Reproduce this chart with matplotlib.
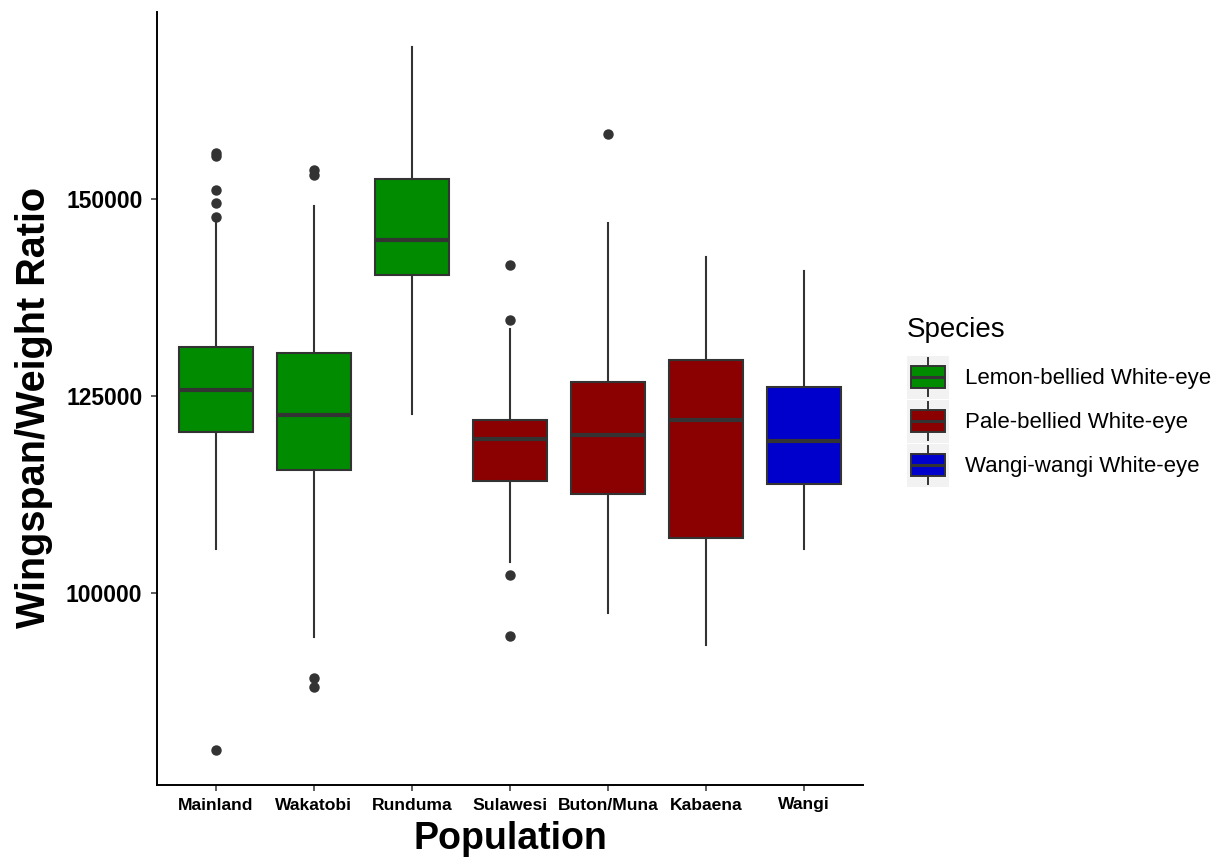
import matplotlib
matplotlib.use("Agg")
import matplotlib.pyplot as plt
from matplotlib.patches import Rectangle, Patch
from matplotlib.lines import Line2D
from matplotlib.legend_handler import HandlerBase

plt.rcParams['font.family'] = ['Liberation Sans', 'DejaVu Sans']

# ---- data ----
populations = ["Mainland", "Wakatobi", "Runduma", "Sulawesi", "Buton/Muna", "Kabaena", "Wangi"]
pop_species = ["Lemon-bellied White-eye", "Lemon-bellied White-eye", "Lemon-bellied White-eye",
               "Pale-bellied White-eye", "Pale-bellied White-eye", "Pale-bellied White-eye",
               "Wangi-wangi White-eye"]
q1 = [120460, 115620, 140420, 114140, 112520, 106960, 113800]
medians = [125810, 122590, 144790, 119530, 120080, 121910, 119310]
q3 = [131210, 130490, 152530, 121950, 126750, 129600, 126120]
whisker_low = [105520, 94390, 122720, 103900, 97450, 93410, 105610]
whisker_high = [147050, 149180, 169310, 133460, 146920, 142680, 140840]
outliers = [
    [147700, 149470, 151160, 155460, 155840, 80040],
    [153070, 153710, 89170, 88020],
    [],
    [134690, 141610, 102200, 94470],
    [158300],
    [],
    [],
]
species_names = ["Lemon-bellied White-eye", "Pale-bellied White-eye", "Wangi-wangi White-eye"]
species_colors = ["#008B00", "#8B0000", "#0000CD"]
yticks = [100000, 125000, 150000]

color_of = dict(zip(species_names, species_colors))
EDGE = "#333333"

fig = plt.figure(figsize=(12.22, 8.57), dpi=100)
ax = fig.add_axes([157 / 1222, 1 - 785 / 857, (863 - 157) / 1222, (785 - 12) / 857])

stats = []
for i, p in enumerate(populations):
    stats.append(dict(label=p, q1=q1[i], med=medians[i], q3=q3[i],
                      whislo=whisker_low[i], whishi=whisker_high[i], fliers=outliers[i]))

positions = list(range(1, len(populations) + 1))
bp = ax.bxp(stats, positions=positions, widths=0.75, patch_artist=True, showcaps=False,
            boxprops=dict(edgecolor=EDGE, linewidth=1.5),
            whiskerprops=dict(color=EDGE, linewidth=1.5),
            medianprops=dict(color=EDGE, linewidth=3.0, solid_capstyle='butt'),
            flierprops=dict(marker='o', markerfacecolor=EDGE, markeredgecolor=EDGE,
                            markersize=6.5, linestyle='none'))
for patch, sp in zip(bp['boxes'], pop_species):
    patch.set_facecolor(color_of[sp])

ax.set_xlim(0.4, len(populations) + 0.6)
ax.set_ylim(75570, 173770)
ax.set_yticks(yticks)
ax.set_yticklabels([str(v) for v in yticks])
ax.set_xticks(positions)
ax.set_xticklabels(populations)

for s in ['top', 'right']:
    ax.spines[s].set_visible(False)
for s in ['left', 'bottom']:
    ax.spines[s].set_linewidth(1.4)
    ax.spines[s].set_color('black')

ax.tick_params(axis='y', length=4.5, width=1.1, color=EDGE, pad=6, labelsize=16.5)
ax.tick_params(axis='x', length=4.5, width=1.1, color=EDGE, pad=4.5, labelsize=12.6)
for lab in ax.get_yticklabels() + ax.get_xticklabels():
    lab.set_fontweight('bold')
    lab.set_color('black')

ax.set_xlabel("Population", fontsize=27, fontweight='bold')
ax.set_ylabel("Wingspan/Weight Ratio", fontsize=28.5, fontweight='bold')
ax.xaxis.set_label_coords(0.5, -0.046)
ax.yaxis.set_label_coords(-0.148, 0.489)


class BoxHandler(HandlerBase):
    def create_artists(self, legend, orig_handle, xdescent, ydescent, width, height,
                       fontsize, trans):
        x0, y0 = -xdescent, -ydescent
        fc = orig_handle.get_facecolor()
        bg = Rectangle((x0, y0), width, height, facecolor='#F2F2F2', edgecolor='none',
                       transform=trans)
        bx0 = x0 + width * 0.09
        bw = width * 0.82
        by0 = y0 + height * 0.25
        bh = height * 0.50
        xc = x0 + width / 2
        w1 = Line2D([xc, xc], [y0 + height * 0.06, by0], color=EDGE, lw=1.4, transform=trans)
        w2 = Line2D([xc, xc], [by0 + bh, y0 + height * 0.94], color=EDGE, lw=1.4, transform=trans)
        box = Rectangle((bx0, by0), bw, bh, facecolor=fc, edgecolor=EDGE, lw=1.4,
                        transform=trans)
        med = Line2D([bx0, bx0 + bw], [by0 + bh / 2, by0 + bh / 2], color=EDGE, lw=2.2,
                     solid_capstyle='butt', transform=trans)
        return [bg, w1, w2, box, med]


handles = [Patch(facecolor=c, edgecolor=EDGE) for c in species_colors]
leg = fig.legend(handles, species_names, title="Species", loc='upper left',
                 bbox_to_anchor=(907 / 1222, 1 - 317 / 857), frameon=False,
                 fontsize=16, title_fontsize=20, handler_map={Patch: BoxHandler()},
                 handlelength=1.89, handleheight=2.6, labelspacing=0.05,
                 handletextpad=0.7, borderpad=0, borderaxespad=0, alignment='left')
leg._legend_box.sep = 9

fig.savefig("out.png", dpi=100, facecolor='white')
